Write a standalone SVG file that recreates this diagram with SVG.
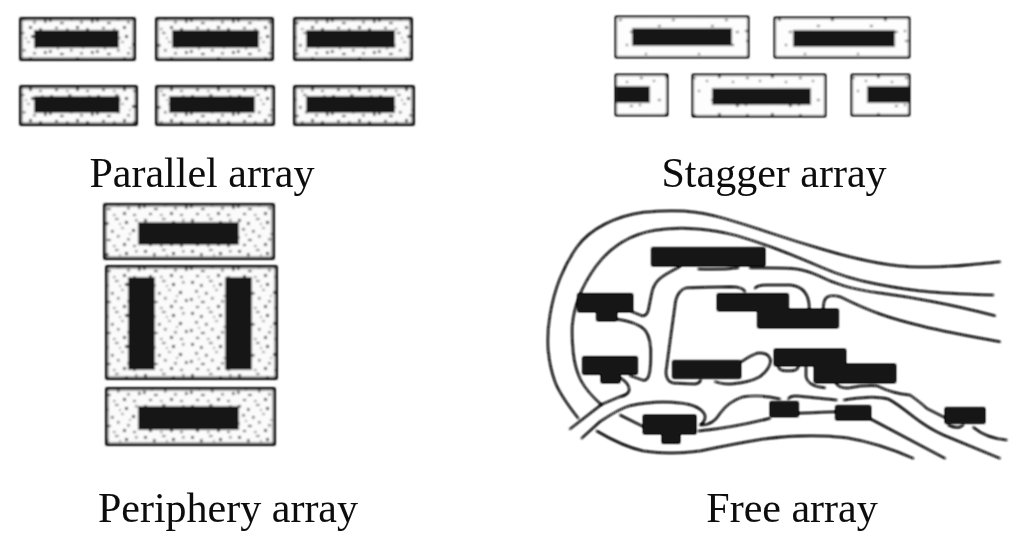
<svg xmlns="http://www.w3.org/2000/svg" width="1024" height="542" viewBox="0 0 1024 542">
<style>
.plot{fill:url(#stipple);stroke:#1c1c1c;stroke-width:2.6}
.light{fill:url(#stippleLight);stroke:#1c1c1c;stroke-width:1.9}
.bldg{fill:#161616}
.road{fill:none;stroke:#111;stroke-width:4.4;stroke-linecap:round;stroke-linejoin:round}
.fp{fill:#161616}
text{font-family:"Liberation Serif","Times New Roman",serif;font-size:42px;fill:#0a0a0a;text-anchor:middle}
</style>
<defs>
<filter id="soft" x="-5%" y="-5%" width="110%" height="110%"><feGaussianBlur stdDeviation="0.8"/><feComponentTransfer><feFuncA type="linear" slope="1.7"/></feComponentTransfer></filter>
<filter id="softText" x="-5%" y="-5%" width="110%" height="110%"><feGaussianBlur stdDeviation="0.3"/></filter>
<pattern id="stipple" width="47" height="31" patternUnits="userSpaceOnUse">
<rect width="47" height="31" fill="#fbfbfb"/>
<g fill="#111">
<rect x="3" y="2" width="3" height="2.5"/><rect x="12" y="5" width="2.5" height="3" opacity=".8"/><rect x="21" y="1" width="3.5" height="2" opacity=".6"/>
<rect x="31" y="4" width="3" height="3"/><rect x="41" y="2" width="2.5" height="2.5" opacity=".5"/><rect x="7" y="11" width="3" height="2.5" opacity=".6"/>
<rect x="17" y="13" width="2.5" height="2.5" opacity=".8"/><rect x="27" y="10" width="3" height="2" opacity=".4"/><rect x="38" y="12" width="3" height="3"/>
<rect x="2" y="19" width="2.5" height="3" opacity=".8"/><rect x="13" y="22" width="3.5" height="2"/><rect x="23" y="18" width="2.5" height="2.5" opacity=".6"/>
<rect x="33" y="21" width="3" height="2.5" opacity=".5"/><rect x="44" y="20" width="2.5" height="3" opacity=".8"/><rect x="8" y="27" width="3" height="2"/>
<rect x="19" y="28" width="2.5" height="2" opacity=".5"/><rect x="29" y="26" width="3" height="3" opacity=".8"/><rect x="39" y="28" width="3" height="2" opacity=".7"/>
<rect x="25" y="6" width="2" height="2" opacity=".4"/><rect x="35" y="16" width="2" height="2" opacity=".4"/><rect x="10" y="17" width="2" height="2" opacity=".4"/>
</g>
</pattern>
<pattern id="stippleLight" width="53" height="37" patternUnits="userSpaceOnUse">
<rect width="53" height="37" fill="#fdfdfd"/>
<g fill="#222">
<rect x="4" y="3" width="2.5" height="1.8"/><rect x="17" y="6" width="2" height="1.8"/><rect x="29" y="2" width="2.5" height="2"/>
<rect x="43" y="7" width="2" height="2"/><rect x="9" y="16" width="2" height="1.8"/><rect x="36" y="19" width="2.5" height="1.8"/>
<rect x="22" y="25" width="2.5" height="1.8"/><rect x="3" y="30" width="2" height="2"/><rect x="47" y="31" width="2.5" height="1.8"/>
</g>
</pattern>
</defs>
<rect width="1024" height="542" fill="#fff"/>
<g filter="url(#soft)">
<g id="parallel-array">
<rect class="plot" x="21" y="19" width="113" height="40"/><rect class="bldg" x="34" y="30" width="85" height="18"/>
<rect class="plot" x="157" y="19" width="115" height="40"/><rect class="bldg" x="172" y="30" width="87" height="18"/>
<rect class="plot" x="295" y="19" width="116" height="40"/><rect class="bldg" x="306" y="30" width="89" height="18"/>
<rect class="plot" x="21" y="87" width="115" height="37"/><rect class="bldg" x="34" y="96" width="86" height="17"/>
<rect class="plot" x="157" y="87" width="116" height="37"/><rect class="bldg" x="169" y="96" width="86" height="17"/>
<rect class="plot" x="295" y="87" width="118" height="37"/><rect class="bldg" x="306" y="96" width="89" height="17"/>
</g>
<g id="stagger-array">
<rect class="light" x="616" y="17" width="132" height="40"/><rect class="bldg" x="632" y="28" width="100" height="18"/>
<rect class="light" x="775" y="18" width="134" height="39"/><rect class="bldg" x="793" y="30" width="102" height="17"/>
<rect class="light" x="616" y="75" width="51" height="40"/><rect class="bldg" x="617" y="86" width="33" height="17"/>
<rect class="light" x="693" y="75" width="132" height="41"/><rect class="bldg" x="712" y="88" width="99" height="17"/>
<rect class="light" x="852" y="75" width="57" height="40"/><rect class="bldg" x="867" y="86" width="42" height="17"/>
</g>
<g id="periphery-array">
<rect class="plot" x="105" y="205" width="168" height="53"/><rect class="bldg" x="138" y="222" width="101" height="23"/>
<rect class="plot" x="107" y="267" width="169" height="111"/><rect class="bldg" x="128" y="277" width="27" height="93"/><rect class="bldg" x="225" y="277" width="27" height="93"/>
<rect class="plot" x="107" y="389" width="167" height="55"/><rect class="bldg" x="138" y="406" width="101" height="24"/>
</g>
<g id="free-array" transform="translate(530 195) scale(.33333)">
<g id="connectors">
<path class="road" d="M1410,200Q1320,210 1260,214Q1200,218 1140,215Q1080,212 1015,198Q950,185 875,162Q800,140 725,115Q650,90 585,71Q520,52 460,48Q400,45 340,52Q280,60 225,87Q170,115 140,157Q110,200 90,250Q70,300 60,360Q50,420 55,470Q60,520 75,560Q90,600 145,670"/>
<path class="road" d="M1390,300Q1280,297 1205,291Q1130,285 1040,267Q950,250 875,217Q800,185 740,162Q680,140 620,122Q560,105 495,101Q430,97 375,106Q320,115 275,142Q230,170 197,215Q165,260 147,305Q130,350 127,390Q125,430 130,475Q135,520 152,555Q170,590 215,630"/>
<path class="road" d="M1395,362Q1290,335 1210,320Q1130,305 1055,295Q980,285 940,272Q900,260 865,242Q830,225 795,221Q760,218 660,218"/>
<path class="road" d="M625,218Q570,225 505,222"/>
<path class="road" d="M450,215Q400,240 385,255Q370,270 365,295Q360,320 355,345Q350,365 335,362L305,350"/>
<path class="road" d="M880,340Q880,315 890,307Q900,298 930,305Q1000,340 1050,357Q1100,375 1175,393Q1250,412 1410,440"/>
<path class="road" d="M645,290Q640,275 600,275L470,278Q445,285 437,317L420,440L408,530Q408,565 440,565L495,567Q510,565 512,555"/>
<path class="road" d="M675,280Q680,270 710,270L780,270Q838,275 838,342"/>
<path class="road" d="M555,560Q580,570 610,566Q660,562 690,545Q722,520 722,495Q715,470 680,475Q660,482 635,500"/>
<path class="road" d="M745,515Q748,530 775,527Q802,530 805,515"/>
<path class="road" d="M828,515L828,545Q835,575 885,578"/>
<path class="road" d="M918,565Q930,582 960,578Q1000,570 1040,572Q1090,597 1140,600Q1175,625 1190,640L1245,668"/>
<path class="road" d="M258,372Q320,380 345,405Q365,430 362,490Q362,560 340,556L300,542"/>
<path class="road" d="M270,548Q298,565 298,585Q295,600 270,605L215,628L120,702"/>
<path class="road" d="M155,730L210,680Q270,640 300,632Q380,615 450,624Q510,630 525,660Q528,680 510,690"/>
<path class="road" d="M270,660L340,695"/>
<path class="road" d="M200,708Q280,755 340,768Q420,780 510,768Q620,745 700,732Q830,715 950,728Q1050,745 1150,790"/>
<path class="road" d="M505,708Q600,700 720,670"/>
<path class="road" d="M805,655L917,650"/>
<path class="road" d="M1022,672L1245,790"/>
<path class="road" d="M515,690Q550,690 570,655Q595,620 640,605Q700,598 750,612"/>
<path class="road" d="M775,612Q780,600 810,604L920,615"/>
<path class="road" d="M942,615Q1030,600 1075,612Q1100,625 1150,665Q1195,700 1240,720L1410,790"/>
<path class="road" d="M1255,690Q1285,705 1300,690"/>
<path class="road" d="M1330,697Q1370,730 1430,735"/>
</g>
<g id="buildings">
<rect class="fp" x="365" y="158" width="340" height="55"/>
<path class="fp" d="M143,296H308V350H260V377H200V350H143Z"/>
<path class="fp" d="M158,485H322V538H270V563H213V538H158Z"/>
<path class="fp" d="M562,296H775V342H925V398H683V347H562Z"/>
<rect class="fp" x="428" y="497" width="204" height="53"/>
<path class="fp" d="M733,462H947V507H1097V563H853V512H733Z"/>
<path class="fp" d="M340,660H498V717H450V745H396V717H340Z"/>
<rect class="fp" x="720" y="620" width="85" height="45"/>
<rect class="fp" x="917" y="632" width="105" height="43"/>
<rect class="fp" x="1245" y="638" width="120" height="47"/>
</g>
</g>
</g>
<g id="labels" filter="url(#softText)">
<text x="202" y="187">Parallel array</text>
<text x="774" y="187">Stagger array</text>
<text x="228" y="522">Periphery array</text>
<text x="792" y="522">Free array</text>
</g>
</svg>
